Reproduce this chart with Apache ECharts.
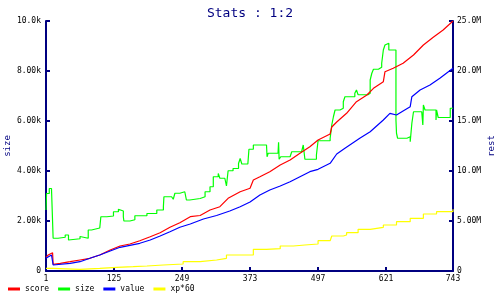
<!DOCTYPE html>
<html><head><meta charset="utf-8">
<script src="https://cdn.jsdelivr.net/npm/echarts@6/dist/echarts.min.js"></script>
<style>html,body{margin:0;padding:0;background:#fff}#c{width:500px;height:300px}</style>
</head><body><div id="c"></div>
<script>
const title = 'Stats : 1:2';
const seriesNames = ['score', 'size', 'value', 'xp*60'];
const xTickLabels = ['1', '125', '249', '373', '497', '621', '743'];

// size (left axis, units)
const sizeX = [1, 2, 7, 11, 14, 23, 36, 42, 45, 63, 66, 78, 84, 99, 101, 112, 124, 133, 136, 142, 143, 154, 163, 185, 203, 215, 216, 230, 233, 236, 245, 254, 257, 263, 282, 291, 300, 306, 315, 318, 327, 330, 333, 342, 352, 355, 358, 369, 371, 379, 403, 404, 406, 424, 425, 426, 429, 446, 449, 467, 470, 473, 494, 497, 519, 522, 525, 528, 537, 543, 546, 564, 567, 570, 588, 592, 595, 598, 607, 613, 616, 619, 622, 626, 639, 640, 642, 659, 665, 668, 671, 686, 688, 689, 692, 712, 713, 716, 738, 743];
const sizeVals = [2440, 3100, 3300, 3350, 1310, 1350, 1440, 1240, 1290, 1380, 1310, 1640, 1720, 1800, 2170, 2200, 2370, 2470, 2400, 2170, 2000, 2050, 2210, 2300, 2440, 2570, 2970, 2970, 2870, 3110, 3170, 3200, 2840, 2900, 2970, 3170, 3370, 3770, 3900, 3710, 3650, 3400, 4010, 4100, 4300, 4500, 4280, 4300, 4870, 5040, 5040, 4570, 4710, 4710, 5150, 4470, 4570, 4570, 4770, 4840, 5040, 4470, 4640, 5210, 5300, 5840, 6170, 6440, 6510, 6770, 6970, 7110, 7240, 7050, 7110, 7640, 7910, 8070, 8150, 8310, 8840, 9040, 9110, 8840, 6040, 5510, 5310, 5370, 5170, 5910, 6370, 6440, 5840, 6640, 6440, 6040, 6440, 6140, 6510, 6510];

// score (right axis, millions)
const scoreX = [1, 5, 13, 14, 27, 45, 63, 81, 99, 118, 136, 154, 172, 191, 209, 227, 245, 264, 282, 300, 318, 333, 355, 373, 379, 391, 409, 428, 446, 464, 482, 497, 519, 522, 531, 549, 567, 586, 598, 616, 619, 634, 652, 671, 689, 707, 725, 743];
const scoreVals = [1.37, 1.6, 1.83, 0.67, 0.77, 0.93, 1.1, 1.27, 1.6, 2.1, 2.5, 2.7, 3.03, 3.43, 3.83, 4.37, 4.83, 5.43, 5.55, 6.1, 6.43, 7.27, 7.93, 8.27, 9.1, 9.43, 9.93, 10.6, 11.1, 11.77, 12.43, 13.1, 13.7, 14.4, 14.9, 15.77, 16.93, 17.6, 18.27, 18.93, 19.93, 20.27, 20.77, 21.6, 22.6, 23.37, 24.1, 25.0];

// value (right axis, millions)
const valueX = [1, 11, 13, 14, 45, 63, 81, 99, 118, 136, 154, 172, 191, 209, 227, 245, 264, 288, 312, 336, 355, 373, 391, 409, 428, 446, 464, 482, 497, 519, 531, 546, 573, 592, 616, 628, 640, 655, 665, 668, 683, 701, 719, 743];
const valueVals = [1.27, 1.6, 1.75, 0.6, 0.77, 0.93, 1.27, 1.6, 2.0, 2.37, 2.57, 2.77, 3.1, 3.5, 3.93, 4.37, 4.7, 5.2, 5.55, 6.0, 6.43, 6.9, 7.6, 8.1, 8.5, 8.93, 9.43, 9.93, 10.17, 10.77, 11.7, 12.27, 13.27, 13.93, 15.1, 15.77, 15.6, 16.1, 16.43, 17.43, 18.1, 18.6, 19.27, 20.27];

// xp*60 (right axis, millions)
const xpX = [1, 14, 63, 99, 130, 160, 185, 215, 251, 282, 312, 330, 379, 403, 428, 452, 473, 497, 519, 522, 543, 549, 570, 592, 616, 640, 665, 689, 713, 743];
const xpVals = [0.27, 0.17, 0.27, 0.37, 0.43, 0.5, 0.6, 0.7, 0.93, 1.1, 1.27, 1.6, 2.17, 2.23, 2.5, 2.6, 2.7, 3.03, 3.17, 3.5, 3.6, 3.83, 4.17, 4.37, 4.6, 4.93, 5.27, 5.7, 5.93, 6.17];

const pairs = (xs, vs, k) => xs.map((x, i) => [x, vs[i] * k]);

const navy = '#000080';
const mono = 'DejaVu Sans Mono';
function fmt(v) {
  if (v === 0) return '0';
  if (v >= 1e6) return (v / 1e6).toPrecision(3) + 'M';
  if (v >= 1e3) return (v / 1e3).toPrecision(3) + 'k';
  return String(v);
}
const axisCommon = {
  axisLine: { show: true, lineStyle: { color: navy, width: 2 } },
  axisTick: { show: true, inside: true, length: 4, lineStyle: { color: navy, width: 2 } },
  splitLine: { show: false },
  axisLabel: { color: '#000', fontFamily: mono, fontSize: 8, formatter: fmt }
};

const chart = echarts.init(document.getElementById('c'), null, { renderer: 'canvas' });
chart.setOption({
  animation: false,
  backgroundColor: '#fff',
  title: { text: title, left: 'center', top: 2, textStyle: { color: navy, fontFamily: mono, fontSize: 13, fontWeight: 'normal' } },
  legend: {
    data: seriesNames, left: 3, bottom: 2, icon: 'rect', itemWidth: 12, itemHeight: 3, itemGap: 9,
    textStyle: { color: '#000', fontFamily: mono, fontSize: 8 }
  },
  grid: { left: 46, right: 47, top: 21, bottom: 29, containLabel: false, outerBoundsMode: 'none' },
  xAxis: Object.assign({}, axisCommon, {
    type: 'value', min: 1, max: 743, interval: 124,
    axisLabel: { color: '#000', fontFamily: mono, fontSize: 8, margin: 4, showMaxLabel: true, showMinLabel: true }
  }),
  yAxis: [
    Object.assign({}, axisCommon, {
      type: 'value', min: 0, max: 10000, interval: 2000, name: 'size', nameLocation: 'middle', nameGap: 34, nameRotate: 90, nameMoveOverlap: false,
      nameTextStyle: { color: navy, fontFamily: mono, fontSize: 9 },
      axisLabel: { color: '#000', fontFamily: mono, fontSize: 8, formatter: fmt, margin: 5 }
    }),
    Object.assign({}, axisCommon, {
      type: 'value', min: 0, max: 25e6, interval: 5e6, position: 'right', name: 'rest', nameLocation: 'middle', nameGap: 34, nameRotate: 90, nameMoveOverlap: false,
      nameTextStyle: { color: navy, fontFamily: mono, fontSize: 9 },
      axisLabel: { color: '#000', fontFamily: mono, fontSize: 8, formatter: fmt, margin: 4 }
    })
  ],
  series: [
    { name: 'score', type: 'line', yAxisIndex: 1, data: pairs(scoreX, scoreVals, 1e6), showSymbol: false, lineStyle: { color: '#ff0000', width: 1.2 }, itemStyle: { color: '#ff0000' }, z: 3 },
    { name: 'size', type: 'line', yAxisIndex: 0, step: 'end', data: pairs(sizeX, sizeVals, 1), showSymbol: false, lineStyle: { color: '#00ff00', width: 1.2 }, itemStyle: { color: '#00ff00' }, z: 2 },
    { name: 'value', type: 'line', yAxisIndex: 1, data: pairs(valueX, valueVals, 1e6), showSymbol: false, lineStyle: { color: '#0000ff', width: 1.2 }, itemStyle: { color: '#0000ff' }, z: 4 },
    { name: 'xp*60', type: 'line', yAxisIndex: 1, step: 'end', data: pairs(xpX, xpVals, 1e6), showSymbol: false, lineStyle: { color: '#ffff00', width: 1.2 }, itemStyle: { color: '#ffff00' }, z: 1 }
  ]
});
</script>
</body></html>
